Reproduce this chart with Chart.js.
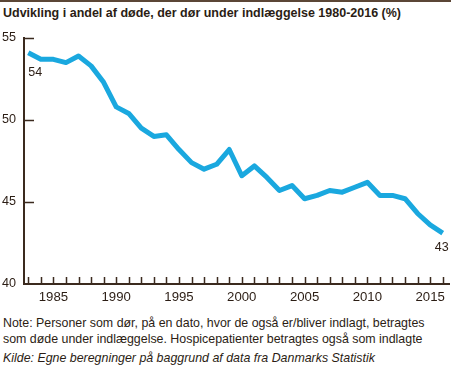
<!DOCTYPE html>
<html>
<head>
<meta charset="utf-8">
<script src="https://cdn.jsdelivr.net/npm/chart.js@4/dist/chart.umd.min.js"></script>
<style>
body { margin: 0; width: 451px; height: 369px; overflow: hidden; background: #fff; position: relative;
       font-family: "Liberation Sans", Arial, sans-serif; color: #2b1d14; }
#rule { position: absolute; left: 0; top: 0; width: 451px; height: 2px; background: #5b4636; }
#title { position: absolute; left: 3px; top: 6px; font-size: 12.5px; font-weight: bold; white-space: nowrap; }
#chartBox { position: absolute; left: 0; top: 25px; width: 451px; height: 285px; }
#note { position: absolute; left: 3px; top: 315px; font-size: 12.4px; line-height: 16px; white-space: nowrap; }
#source { position: absolute; left: 3px; top: 350px; font-size: 12.4px; line-height: 16px; font-style: italic; white-space: nowrap; }
</style>
</head>
<body>
<div id="rule"></div>
<div id="title">Udvikling i andel af døde, der dør under indlæggelse 1980-2016 (%)</div>
<div id="chartBox"><canvas id="deathChart" width="451" height="285"></canvas></div>
<div id="note">Note: Personer som dør, på en dato, hvor de også er/bliver indlagt, betragtes<br>som døde under indlæggelse. Hospicepatienter betragtes også som indlagte</div>
<div id="source">Kilde: Egne beregninger på baggrund af data fra Danmarks Statistik</div>
<script>
var years = [1983, 1984, 1985, 1986, 1987, 1988, 1989, 1990, 1991, 1992, 1993, 1994,
             1995, 1996, 1997, 1998, 1999, 2000, 2001, 2002, 2003, 2004, 2005, 2006,
             2007, 2008, 2009, 2010, 2011, 2012, 2013, 2014, 2015, 2016];
var shareInHospital = [54.1, 53.7, 53.7, 53.5, 53.9, 53.3, 52.3, 50.8, 50.4, 49.5, 49.0, 49.1,
                       48.2, 47.4, 47.0, 47.3, 48.2, 46.6, 47.2, 46.5, 45.7, 46.0, 45.2, 45.4,
                       45.7, 45.6, 45.9, 46.2, 45.4, 45.4, 45.2, 44.3, 43.6, 43.1];
var yTicks = [40, 45, 50, 55];
var labelEvery = 5;

var lineColor = "#1aa8df";
var axisColor = "#3b2a1e";
var textColor = "#2b1d14";
var fontFamily = '"Liberation Sans", Arial, sans-serif';

// tick marks drawn inside the axes, plus the end value labels
var axisMarks = {
    id: 'axisMarks',
    afterDraw: function(chart) {
        var ctx = chart.ctx;
        var xs = chart.scales.x, ys = chart.scales.y, area = chart.chartArea;
        ctx.save();
        ctx.strokeStyle = axisColor;
        ctx.lineWidth = 1.5;
        ctx.beginPath();
        xs.ticks.forEach(function(t) {
            var px = Math.round(xs.getPixelForValue(t.value)) + 0.5;
            ctx.moveTo(px, area.bottom);
            ctx.lineTo(px, area.bottom - 7);
        });
        ys.ticks.forEach(function(t) {
            if (t.value === ys.min) return;
            var py = Math.round(ys.getPixelForValue(t.value)) + 0.5;
            ctx.moveTo(area.left, py);
            ctx.lineTo(area.left + 10, py);
        });
        ctx.stroke();

        var pts = chart.getDatasetMeta(0).data;
        var first = pts[0], last = pts[pts.length - 1];
        ctx.fillStyle = textColor;
        ctx.font = '12.5px ' + fontFamily;
        ctx.textBaseline = 'middle';
        ctx.textAlign = 'left';
        ctx.fillText(Math.round(shareInHospital[0]), first.x, first.y + 20);
        ctx.textAlign = 'right';
        ctx.fillText(Math.round(shareInHospital[shareInHospital.length - 1]), last.x + 6, last.y + 14);
        ctx.restore();
    }
};

var deathChart = new Chart(document.getElementById('deathChart'), {
    type: 'line',
    data: {
        datasets: [{
            data: years.map(function(yr, i) { return { x: yr, y: shareInHospital[i] }; }),
            borderColor: lineColor,
            borderWidth: 5,
            borderJoinStyle: 'round',
            pointRadius: 0,
            tension: 0,
            fill: false,
            clip: false
        }]
    },
    options: {
        responsive: false,
        animation: false,
        layout: { padding: { top: 13, left: 2, right: 2, bottom: 0 } },
        plugins: { legend: { display: false }, tooltip: { enabled: false } },
        scales: {
            x: {
                type: 'linear',
                min: 1982.66,
                max: 2016.5,
                grid: { display: false, drawTicks: false },
                border: { display: true, color: axisColor, width: 2 },
                afterFit: function(scale) { scale.height = 26; },
                ticks: {
                    stepSize: 1,
                    includeBounds: false,
                    autoSkip: false,
                    maxRotation: 0,
                    padding: 5,
                    color: textColor,
                    font: { family: fontFamily, size: 13.2 },
                    callback: function(v) { return v % labelEvery === 0 ? String(v) : ''; }
                }
            },
            y: {
                min: yTicks[0],
                max: yTicks[yTicks.length - 1],
                grid: { display: false, drawTicks: false },
                border: { display: true, color: axisColor, width: 2 },
                afterFit: function(scale) { scale.width = 22; },
                afterBuildTicks: function(scale) { scale.ticks = yTicks.map(function(v) { return { value: v }; }); },
                ticks: {
                    crossAlign: 'far',
                    color: textColor,
                    font: { family: fontFamily, size: 12.6 }
                }
            }
        }
    },
    plugins: [axisMarks]
});
</script>
</body>
</html>
